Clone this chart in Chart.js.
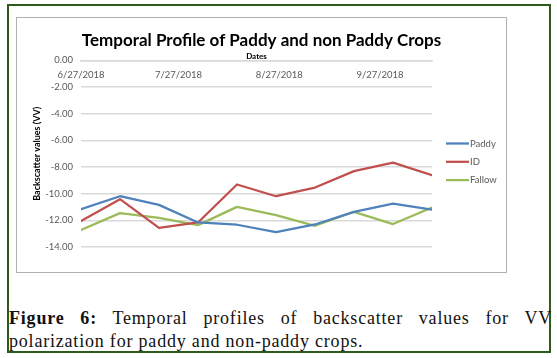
<!DOCTYPE html>
<html>
<head>
<meta charset="utf-8">
<script src="https://cdn.jsdelivr.net/npm/chart.js@4/dist/chart.umd.min.js"></script>
<style>
  html, body { margin: 0; padding: 0; background: #fff; width: 557px; height: 358px; overflow: hidden; }
  #frame { position: absolute; left: 7px; top: 4px; width: 540px; height: 345px; border: 2px solid #2e5a20; }
  #box { position: absolute; left: 16px; top: 17px; width: 489px; height: 254px; border: 1px solid #b0b0b0; }
  #wrap { position: absolute; left: 17px; top: 18px; width: 489px; height: 254px; }
  #caption { position: absolute; left: 9px; top: 307px; width: 543px; font-family: "Liberation Serif", serif; font-size: 18px; line-height: 23px; color: #111; text-align: justify; letter-spacing: 0.8px; }
  #caption b { font-weight: bold; }
</style>
</head>
<body>
<div id="frame"></div>
<div id="box"></div>
<div id="wrap"><canvas id="c" width="489" height="254"></canvas></div>
<div id="caption"><b>Figure 6:</b> Temporal profiles of backscatter values for VV polarization for paddy and non-paddy crops.</div>
<script>
const dates = ['2018-06-27','2018-07-09','2018-07-21','2018-08-02','2018-08-14','2018-08-26','2018-09-07','2018-09-19','2018-10-01','2018-10-13'];
const paddy  = [-11.16,-10.19,-10.84,-12.16,-12.33,-12.88,-12.31,-11.36,-10.74,-11.19];
const idVals = [-12.06,-10.41,-12.56,-12.16,-9.31,-10.19,-9.54,-8.31,-7.67,-8.61];
const fallow = [-12.73,-11.46,-11.81,-12.36,-10.99,-11.61,-12.41,-11.36,-12.28,-11.04];
const tickDates = ['2018-06-27','2018-07-27','2018-08-27','2018-09-27'];
const tickLabels = ['6/27/2018','7/27/2018','8/27/2018','9/27/2018'];
const seriesNames = ['Paddy','ID','Fallow'];
const seriesColors = ['#4F81BD','#C0504D','#9BBB59'];

const t0 = Date.parse(dates[0]);
const dayOf = d => Math.round((Date.parse(d) - t0) / 86400000);
const xs = dates.map(dayOf);
const toPts = arr => arr.map((v, i) => ({x: xs[i], y: v}));

const FONT = 'Lato, "Open Sans", sans-serif';

const legendPlugin = {
  id: 'sideLegend',
  afterDraw(chart) {
    const ctx = chart.ctx;
    ctx.save();
    chart.data.datasets.forEach((ds, i) => {
      const y = 125.5 + i * 18.3;
      ctx.strokeStyle = ds.borderColor;
      ctx.lineWidth = 2.25;
      ctx.beginPath();
      ctx.moveTo(429, y);
      ctx.lineTo(452, y);
      ctx.stroke();
      ctx.fillStyle = '#595959';
      ctx.font = '9.5px ' + FONT;
      ctx.textBaseline = 'middle';
      ctx.textAlign = 'left';
      ctx.fillText(ds.label, 453, y);
    });
    ctx.restore();
  }
};

new Chart(document.getElementById('c'), {
  type: 'line',
  data: {
    datasets: [
      {label: seriesNames[0], data: toPts(paddy), borderColor: seriesColors[0]},
      {label: seriesNames[1], data: toPts(idVals), borderColor: seriesColors[1]},
      {label: seriesNames[2], data: toPts(fallow), borderColor: seriesColors[2]}
    ]
  },
  options: {
    responsive: false,
    animation: false,
    elements: {
      line: {borderWidth: 2.25, tension: 0, fill: false, borderCapStyle: 'round', borderJoinStyle: 'round'},
      point: {radius: 0, hoverRadius: 0}
    },
    layout: {padding: {top: 0, right: 0, bottom: 25, left: 0}},
    plugins: {
      legend: {display: false},
      tooltip: {enabled: false},
      title: {
        display: true,
        text: 'Temporal Profile of Paddy and non Paddy Crops',
        color: '#000',
        font: {family: FONT, size: 17, weight: 'bold', lineHeight: 1.2},
        padding: {top: 12.8, bottom: 0}
      },
      subtitle: {
        display: true,
        text: 'Dates',
        fullSize: false,
        color: '#000',
        font: {family: FONT, size: 8, weight: 'bold', lineHeight: 1},
        padding: {top: 1.2, bottom: 0}
      }
    },
    scales: {
      x: {
        type: 'linear',
        position: {y: 0},
        min: 0,
        max: xs[xs.length - 1],
        afterBuildTicks(scale) {
          scale.ticks = tickDates.map(d => ({value: dayOf(d)}));
        },
        grid: {display: false, drawTicks: false},
        border: {display: true, color: '#d9d9d9', width: 1.5},
        ticks: {
          padding: 9,
          maxRotation: 0,
          autoSkip: false,
          color: '#595959',
          font: {family: FONT, size: 9.5},
          callback: (v, i) => tickLabels[i]
        }
      },
      y: {
        min: -14,
        max: 0,
        afterFit(scale) { scale.width = 64; },
        grid: {color: '#d9d9d9', lineWidth: 1.5, drawTicks: false},
        border: {display: false},
        ticks: {
          stepSize: 2,
          padding: 8,
          color: '#595959',
          font: {family: FONT, size: 9.5},
          callback: v => v.toFixed(2)
        },
        title: {
          display: true,
          text: 'Backscatter values (VV)',
          color: '#000',
          font: {family: FONT, size: 9, weight: 'bold', lineHeight: 1.2},
          padding: {top: 14.6, bottom: 0}
        }
      },
      ySpace: {
        position: 'right',
        display: true,
        afterFit(scale) { scale.width = 74; },
        grid: {display: false, drawTicks: false},
        border: {display: false},
        ticks: {display: false}
      }
    }
  },
  plugins: [legendPlugin]
});
</script>
</body>
</html>
